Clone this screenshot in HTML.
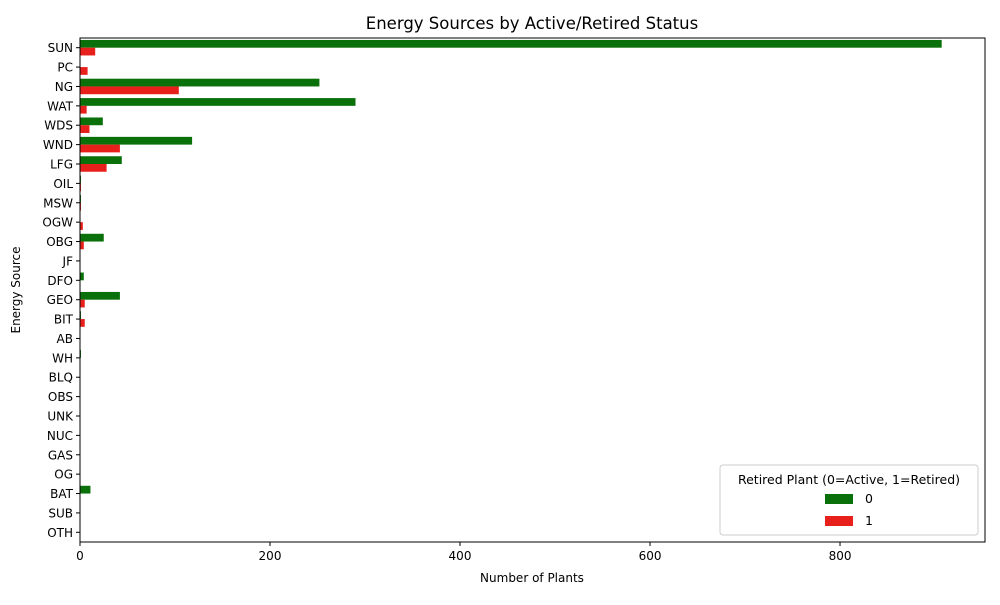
<!DOCTYPE html>
<html><head><meta charset="utf-8"><style>
body{margin:0;background:#fff;font-family:"Liberation Sans","DejaVu Sans",sans-serif}
</style></head><body>
<svg width="1000" height="600" id="c" font-family="DejaVu Sans, Liberation Sans, sans-serif"></svg>
<script>
const categories=["SUN","PC","NG","WAT","WDS","WND","LFG","OIL","MSW","OGW","OBG","JF","DFO","GEO","BIT","AB","WH","BLQ","OBS","UNK","NUC","GAS","OG","BAT","SUB","OTH"];
const activeValues=[907,0,252,290,24,118,44,1,1,0,25,0,4,42,1,0,1,0,0,0,0,0,0,11,0,0];
const retiredValues=[16,8,104,7,10,42,28,1,1,3,4,0,0,5,5,0,0,0,0,0,0,0,0,0,0,0];
const xTicks=[0,200,400,600,800];
const svg=document.getElementById('c');const NS='http://www.w3.org/2000/svg';
function mk(t,a,p){const e=document.createElementNS(NS,t);for(const k in a)e.setAttribute(k,a[k]);(p||svg).appendChild(e);return e;}
const L=80,R=985,T=38,B=542,xmax=952.6;
const x=v=>L+v/xmax*(R-L);
const step=(B-T)/categories.length;
const yc=i=>T+step*(i+0.5);
const bh=step*0.4;
let t=mk('text',{x:532,y:29,'text-anchor':'middle','font-size':16.5});t.textContent='Energy Sources by Active/Retired Status';


categories.forEach((c,i)=>{
 let r=mk('rect',{x:L,y:yc(i)-bh,width:x(activeValues[i])-L,height:bh,fill:'#0a700a'});
 
 
 let r2=mk('rect',{x:L,y:yc(i),width:x(retiredValues[i])-L,height:bh,fill:'#e8201c'});
 
 
 mk('line',{x1:L-4,x2:L,y1:yc(i),y2:yc(i),stroke:'#000'});
 let l=mk('text',{x:L-7,y:yc(i)+4.5,'text-anchor':'end','font-size':12});l.textContent=c;
 
 
});
xTicks.forEach(v=>{
 mk('line',{x1:x(v),x2:x(v),y1:B,y2:B+4,stroke:'#000'});
 let l=mk('text',{x:x(v),y:B+18,'text-anchor':'middle','font-size':12});l.textContent=v;
 
 
});
mk('rect',{x:L,y:T,width:R-L,height:B-T,fill:'none',stroke:'#000','stroke-width':1});
t=mk('text',{x:532,y:582,'text-anchor':'middle','font-size':12});t.textContent='Number of Plants';


t=mk('text',{x:0,y:0,'text-anchor':'middle','font-size':12,transform:'translate(25,290) rotate(-90)'});t.textContent='Energy Source';
t.setAttribute('transform','translate(20,290) rotate(-90)');


const g=mk('g',{});


mk('rect',{x:720,y:465,width:258,height:70,rx:3,fill:'#fff','fill-opacity':0.8,stroke:'#ccc'},g);
t=mk('text',{x:849,y:484,'text-anchor':'middle','font-size':12.5},g);t.textContent='Retired Plant (0=Active, 1=Retired)';
mk('rect',{x:825,y:494,width:28,height:10,fill:'#0a700a'},g);
t=mk('text',{x:865,y:503,'font-size':12.5},g);t.textContent='0';
mk('rect',{x:825,y:516,width:28,height:10,fill:'#e8201c'},g);
t=mk('text',{x:865,y:525,'font-size':12.5},g);t.textContent='1';
</script>
</body></html>
